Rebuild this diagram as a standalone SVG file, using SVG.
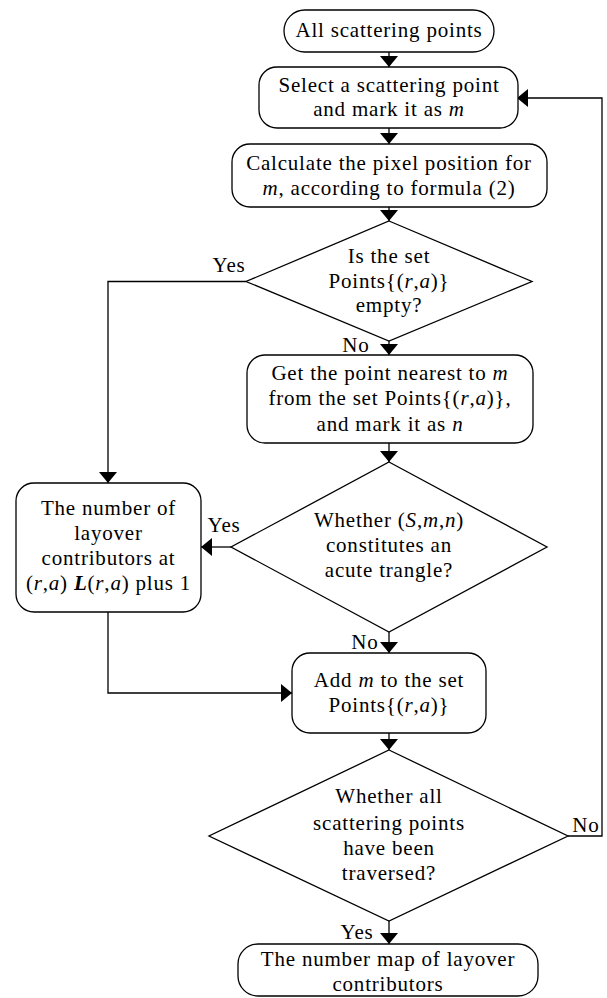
<svg xmlns="http://www.w3.org/2000/svg" width="607" height="998" viewBox="0 0 607 998">
<style>
.n{fill:#fff;stroke:#000;stroke-width:1.3}
.c{fill:none;stroke:#000;stroke-width:1.3}
text{font-family:'Liberation Serif','DejaVu Serif',serif;font-size:21px;fill:#000;letter-spacing:0.8px}
.m{text-anchor:middle}
.i{font-style:italic}
.b{font-style:italic;font-weight:bold}
</style>
<defs>
<marker id="ah" markerUnits="userSpaceOnUse" markerWidth="12" markerHeight="18" refX="11" refY="9" orient="auto">
<path d="M0,0 L11,9 L0,18 z" fill="#000"/>
</marker>
</defs>
<rect width="607" height="998" fill="#fff"/>
<g id="connectors">
<path class="c" d="M389,52 V67" marker-end="url(#ah)"/>
<path class="c" d="M389,128 V144" marker-end="url(#ah)"/>
<path class="c" d="M389,207 V221" marker-end="url(#ah)"/>
<path class="c" d="M389,341 V355" marker-end="url(#ah)"/>
<path class="c" d="M246,281.5 H108 V483" marker-end="url(#ah)"/>
<path class="c" d="M389,443 V462" marker-end="url(#ah)"/>
<path class="c" d="M231,547 H201" marker-end="url(#ah)"/>
<path class="c" d="M389,632 V653" marker-end="url(#ah)"/>
<path class="c" d="M108,612 V693 H292" marker-end="url(#ah)"/>
<path class="c" d="M389,733 V750" marker-end="url(#ah)"/>
<path class="c" d="M568,836 H602 V98 H517" marker-end="url(#ah)"/>
<path class="c" d="M389,921 V944" marker-end="url(#ah)"/>
<text x="229" y="272" class="m">Yes</text>
<text x="356" y="352" class="m">No</text>
<text x="224" y="532" class="m">Yes</text>
<text x="365" y="649" class="m">No</text>
<text x="586" y="832" class="m">No</text>
<text x="357" y="939" class="m">Yes</text>
</g>
<g id="start">
<rect class="n" x="284" y="10" width="210" height="42" rx="21"/>
<text x="389" y="37" class="m">All scattering points</text>
</g>
<g id="select">
<rect class="n" x="259" y="67" width="259" height="61" rx="18"/>
<text x="389" y="92" class="m">Select a scattering point</text>
<text x="389" y="116" class="m">and mark it as <tspan class="i">m</tspan></text>
</g>
<g id="calc">
<rect class="n" x="232" y="144" width="315" height="63" rx="18"/>
<text x="389" y="170" class="m">Calculate the pixel position for</text>
<text x="389" y="195" class="m"><tspan class="i">m</tspan>, according to formula (2)</text>
</g>
<g id="empty">
<polygon class="n" points="389,221 532,281.5 389,341 246,281.5"/>
<text x="389" y="263" class="m">Is the set</text>
<text x="389" y="288" class="m">Points{(<tspan class="i">r</tspan>,<tspan class="i">a</tspan>)}</text>
<text x="389" y="312" class="m">empty?</text>
</g>
<g id="nearest">
<rect class="n" x="247" y="355" width="286" height="88" rx="18"/>
<text x="390" y="380" class="m">Get the point nearest to <tspan class="i">m</tspan></text>
<text x="390" y="405" class="m">from the set Points{(<tspan class="i">r</tspan>,<tspan class="i">a</tspan>)},</text>
<text x="390" y="431" class="m">and mark it as <tspan class="i">n</tspan></text>
</g>
<g id="acute">
<polygon class="n" points="389,462 547,547 389,632 231,547"/>
<text x="389" y="527" class="m">Whether (<tspan class="i">S</tspan>,<tspan class="i">m</tspan>,<tspan class="i">n</tspan>)</text>
<text x="389" y="552" class="m">constitutes an</text>
<text x="389" y="577" class="m">acute trangle?</text>
</g>
<g id="count">
<rect class="n" x="16" y="483" width="185" height="129" rx="18"/>
<text x="108.5" y="515" class="m">The number of</text>
<text x="108.5" y="540" class="m">layover</text>
<text x="108.5" y="565" class="m">contributors at</text>
<text x="108.5" y="590" class="m">(<tspan class="i">r</tspan>,<tspan class="i">a</tspan>) <tspan class="b">L</tspan>(<tspan class="i">r</tspan>,<tspan class="i">a</tspan>) plus 1</text>
</g>
<g id="add">
<rect class="n" x="292" y="653" width="194" height="80" rx="18"/>
<text x="389" y="687" class="m">Add <tspan class="i">m</tspan> to the set</text>
<text x="389" y="712" class="m">Points{(<tspan class="i">r</tspan>,<tspan class="i">a</tspan>)}</text>
</g>
<g id="traversed">
<polygon class="n" points="389,750 568,836 389,921 209,836"/>
<text x="389" y="803" class="m">Whether all</text>
<text x="389" y="830" class="m">scattering points</text>
<text x="389" y="855" class="m">have been</text>
<text x="389" y="880" class="m">traversed?</text>
</g>
<g id="end">
<rect class="n" x="238" y="944" width="300" height="52" rx="20"/>
<text x="388" y="966" class="m">The number map of layover</text>
<text x="388" y="991" class="m">contributors</text>
</g>
</svg>
